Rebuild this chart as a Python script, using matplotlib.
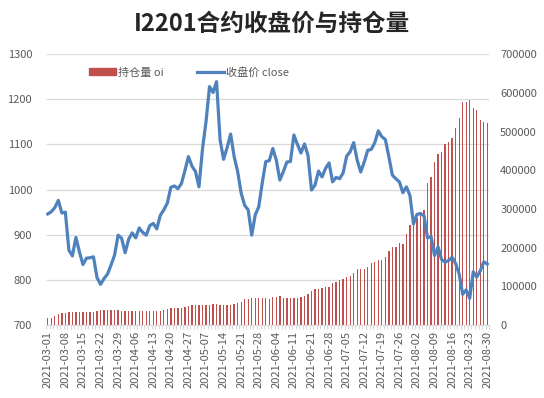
import matplotlib
matplotlib.use('Agg')
import matplotlib.pyplot as plt
import matplotlib.transforms as mtransforms
from matplotlib.patches import Patch
from matplotlib.lines import Line2D
import numpy as np
import pandas as pd

plt.rcParams['font.family'] = ['Noto Sans CJK SC', 'DejaVu Sans']
plt.rcParams['axes.unicode_minus'] = False

# 交易日（剔除节假日）
hol = ['2021-04-05', '2021-05-03', '2021-05-04', '2021-05-05', '2021-06-14']
days = pd.bdate_range('2021-03-01', '2021-08-30')
days = days[~days.isin(pd.to_datetime(hol))]
dates = [d.strftime('%Y-%m-%d') for d in days]

# 收盘价 close
close = [946, 951, 960, 976, 948, 950, 866, 853, 894, 862,
         834, 848, 849, 851, 805, 790, 803, 813, 833, 855,
         899, 892, 860, 890, 904, 893, 915, 905, 899, 920,
         925, 913, 943, 955, 970, 1005, 1008, 1002, 1013, 1042,
         1073, 1052, 1040, 1006, 1090, 1150, 1228, 1215, 1239, 1110,
         1067, 1093, 1123, 1073, 1040, 992, 965, 955, 899, 944,
         962, 1015, 1062, 1064, 1091, 1065, 1021, 1040, 1061, 1062,
         1121, 1100, 1081, 1101, 1076, 999, 1010, 1041, 1028, 1047,
         1059, 1017, 1027, 1024, 1037, 1074, 1084, 1104, 1065, 1039,
         1061, 1087, 1089, 1104, 1130, 1117, 1111, 1073, 1032, 1024,
         1017, 993, 1006, 987, 924, 945, 947, 942, 893, 896,
         854, 873, 845, 839, 843, 850, 836, 813, 768, 778,
         759, 818, 806, 820, 840, 835]

# 持仓量 oi
oi = [17000, 19000, 24000, 27500, 31000, 32000, 33500, 33500, 34000, 33500,
      33500, 33500, 33000, 33500, 35000, 38500, 38500, 39000, 38500, 38500,
      38000, 36000, 36000, 36500, 36000, 36000, 36000, 36000, 36000, 36000,
      36500, 36000, 36000, 38500, 42000, 44500, 45000, 44500, 44000, 47500,
      50000, 50500, 52000, 52000, 52500, 52000, 52000, 53000, 53500, 52000,
      52000, 52500, 52000, 55000, 57000, 58500, 66000, 66500, 70000, 68500,
      68500, 69000, 68500, 66300, 71500, 71500, 75000, 69000, 69000, 69500,
      69000, 69000, 71500, 75000, 80000, 88000, 92000, 92000, 95000, 97300,
      99000, 107500, 111700, 116000, 120000, 124000, 126000, 135000, 144000, 145500,
      145500, 150700, 159000, 163000, 169000, 168000, 175000, 192000, 201000, 201000,
      212000, 209000, 236000, 259000, 271000, 276000, 289000, 297000, 366000, 381500,
      420000, 440800, 446000, 469000, 473600, 482000, 509800, 533800, 575000, 576700,
      582000, 559700, 555400, 529500, 523500, 521000]

c_bar = '#C0504D'
c_line = '#4F81BD'
c_txt = '#595959'

x = np.arange(len(dates))

fig = plt.figure(figsize=(5.44, 3.98), dpi=100)
ax = fig.add_axes([0.0846, 0.1834, 0.8144, 0.6806])
ax2 = ax.twinx()

# 柱状图在下层，折线在上层
ax.set_zorder(ax2.get_zorder() + 1)
ax.patch.set_visible(False)

ax2.bar(x, oi, width=0.38, color=c_bar, zorder=2)
ax2.set_ylim(0, 700000)
ax2.set_yticks(np.arange(0, 700001, 100000))

ax.plot(x, close, color=c_line, lw=2.3, solid_joinstyle='round')
ax.set_ylim(700, 1300)
ax.set_yticks(np.arange(700, 1301, 100))
ax.set_xlim(-0.5, len(x) - 0.5)

# 网格线画在柱子下面
tr = mtransforms.blended_transform_factory(ax2.transAxes, ax.transData)
ax2.hlines(ax.get_yticks()[1:], 0, 1, transform=tr, color='#D9D9D9', lw=0.9, zorder=0)

ax.set_xticks(x[::5])
ax.set_xticklabels(dates[::5], rotation=90)
ax.set_xticks(np.arange(-0.5, len(x), 1), minor=True)
ax.tick_params(axis='x', which='major', length=0, pad=4, labelsize=8, labelcolor=c_txt)
ax.tick_params(axis='x', which='minor', length=3, color='#D9D9D9', width=0.8)
ax.tick_params(axis='y', length=0, labelsize=8, labelcolor=c_txt, pad=10)
ax2.tick_params(axis='y', length=0, labelsize=8, labelcolor=c_txt, pad=8)

for a in (ax, ax2):
    for s in ['top', 'left', 'right']:
        a.spines[s].set_visible(False)
    a.spines['bottom'].set_color('#D9D9D9')

handles = [Patch(color=c_bar, label='持仓量 oi'),
           Line2D([], [], color=c_line, lw=2.3, label='收盘价 close')]
fig.legend(handles=handles, loc='center left', bbox_to_anchor=(0.145, 0.818),
           ncol=2, frameon=False, fontsize=8, handlelength=2.4, handleheight=0.6,
           handletextpad=0.2, columnspacing=3.0, labelcolor=c_txt)

fig.text(0.5, 0.94, 'I2201合约收盘价与持仓量', ha='center', va='center',
         fontsize=17, fontweight='bold', color='#262626')

fig.savefig('out.png', dpi=100)
